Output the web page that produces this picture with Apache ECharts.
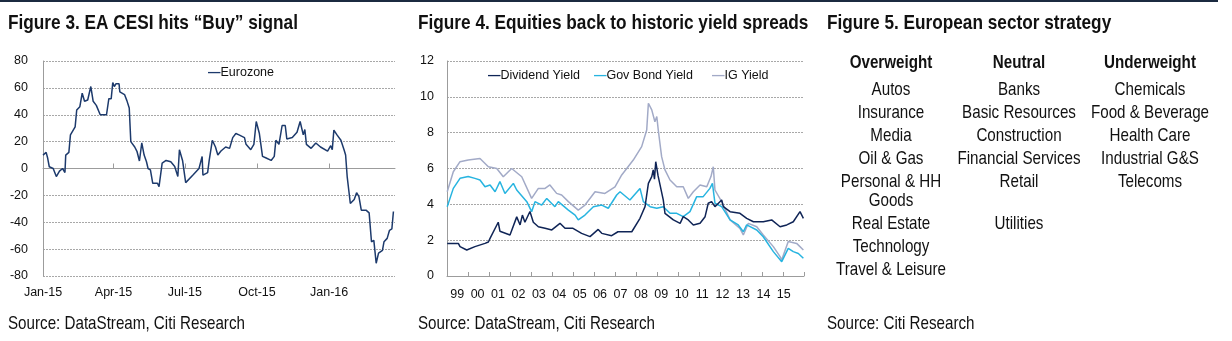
<!DOCTYPE html>
<html>
<head>
<meta charset="utf-8">
<script src="https://cdn.jsdelivr.net/npm/echarts@6/dist/echarts.min.js"></script>
<style>
  html, body { margin: 0; padding: 0; background: #fff; }
  #c { width: 1232px; height: 341px; }
</style>
</head>
<body>
<div id="c"></div>
<script>
// ---- Figure 3: EA CESI (Eurozone) ----
const cesiDates = [
  '2015-01-01','2015-01-05','2015-01-07','2015-01-09','2015-01-14','2015-01-18','2015-01-22','2015-01-26',
  '2015-01-29','2015-01-30','2015-02-03','2015-02-05','2015-02-08','2015-02-11','2015-02-13','2015-02-17',
  '2015-02-20','2015-02-23','2015-02-27','2015-03-03','2015-03-06','2015-03-10','2015-03-15','2015-03-23',
  '2015-03-26','2015-03-29','2015-03-31','2015-04-02','2015-04-04','2015-04-08','2015-04-09','2015-04-15',
  '2015-04-18','2015-04-21','2015-04-23','2015-04-28','2015-05-01','2015-05-04','2015-05-07','2015-05-10',
  '2015-05-13','2015-05-15','2015-05-18','2015-05-21','2015-05-27','2015-05-29','2015-06-02','2015-06-07',
  '2015-06-13','2015-06-18','2015-06-22','2015-06-24','2015-06-28','2015-07-02','2015-07-11','2015-07-19',
  '2015-07-23','2015-07-24','2015-07-30','2015-08-01','2015-08-05','2015-08-09','2015-08-12','2015-08-16',
  '2015-08-22','2015-08-27','2015-08-31','2015-09-04','2015-09-08','2015-09-15','2015-09-17','2015-09-23',
  '2015-09-27','2015-09-30','2015-10-04','2015-10-08','2015-10-12','2015-10-19','2015-10-23','2015-10-25',
  '2015-10-29','2015-11-02','2015-11-06','2015-11-08','2015-11-15','2015-11-21','2015-11-25','2015-11-29',
  '2015-12-01','2015-12-03','2015-12-09','2015-12-15','2015-12-21','2015-12-30','2016-01-03','2016-01-05',
  '2016-01-07','2016-01-11','2016-01-16','2016-01-20','2016-01-22','2016-01-24','2016-01-26','2016-01-28',
  '2016-02-02','2016-02-05','2016-02-08','2016-02-11','2016-02-17','2016-02-21','2016-02-24','2016-02-27',
  '2016-03-01','2016-03-04','2016-03-09','2016-03-11','2016-03-15','2016-03-18','2016-03-21','2016-03-23'
];
const cesiValues = [
  10, 12, 7.6, 1.3, 0, -6, -2, 0,
  -3, 10, 12, 25, 28, 31, 43.5, 46,
  56, 50, 51, 61, 50, 47, 40, 40,
  52, 52, 64, 61, 63, 63, 57, 55,
  50.5, 45, 20, 16, 12.5, 5.6, 19, 10,
  5, 0, -1, -11, -11, -13.5, 4, 6,
  5, 1.5, -6, 14, 6, -10.5, -5, 0,
  9, -5, -3, 6, 21, 16, 10, 13,
  16, 15, 23, 26, 25, 23, 18, 14,
  18, 35, 26, 9, 8, 6, 9, 21,
  18, 32, 32, 22, 23, 27, 35, 25,
  29, 18, 15, 19, 16, 13, 17, 14,
  28.6, 25, 21, 14, 10, -6, -16, -26,
  -23, -18, -21, -31, -31, -33, -54.5, -53.5,
  -70.5, -63, -61, -54.5, -52, -46, -45, -32
];
const cesiTickDates = ['2015-01-01', '2015-04-01', '2015-07-01', '2015-10-01', '2016-01-01'];
const cesiRange = ['2015-01-01', '2016-03-25'];
const monthNames = ['Jan','Feb','Mar','Apr','May','Jun','Jul','Aug','Sep','Oct','Nov','Dec'];

// ---- Figure 4: yields (year, %) ----
const yieldYearLabels = ['99','00','01','02','03','04','05','06','07','08','09','10','11','12','13','14','15'];
const dividendYield = [
  [1999.01,1.82],[1999.54,1.82],[1999.62,1.64],[1999.94,1.45],[2000.33,1.64],[2000.81,1.82],[2000.97,1.9],
  [2001.05,2.1],[2001.44,3.0],[2001.52,2.5],[2002.0,2.29],[2002.32,3.3],[2002.48,2.85],[2002.59,3.4],
  [2002.71,3.0],[2002.95,3.6],[2003.11,3.0],[2003.35,2.75],[2003.67,2.66],[2003.99,2.57],[2004.38,2.94],
  [2004.62,2.66],[2005.0,2.66],[2005.41,2.38],[2005.81,2.2],[2006.2,2.6],[2006.37,2.38],[2006.84,2.25],
  [2007.14,2.47],[2007.4,2.47],[2007.8,2.47],[2008.19,3.22],[2008.43,3.87],[2008.59,5.17],[2008.75,5.55],
  [2008.82,5.92],[2008.88,5.4],[2008.94,6.38],[2009.05,5.6],[2009.3,4.24],[2009.38,3.5],[2009.78,3.13],
  [2010.1,2.94],[2010.25,3.31],[2010.49,3.13],[2010.73,2.85],[2011.05,2.94],[2011.29,3.31],[2011.44,4.06],
  [2011.6,4.15],[2011.76,3.87],[2012.08,4.24],[2012.16,3.87],[2012.48,3.59],[2012.95,3.5],[2013.27,3.22],
  [2013.59,3.03],[2014.06,3.03],[2014.46,3.13],[2014.86,2.75],[2015.18,2.85],[2015.49,3.03],[2015.81,3.59],
  [2015.97,3.22]
];
const govBondYield = [
  [1999.01,3.87],[1999.3,4.89],[1999.62,5.45],[2000.01,5.55],[2000.33,5.45],[2000.57,5.36],[2000.81,4.98],
  [2001.05,5.08],[2001.29,4.7],[2001.52,5.27],[2001.76,4.6],[2002.16,5.17],[2002.32,4.8],[2002.8,4.15],
  [2003.03,3.59],[2003.19,4.15],[2003.51,3.96],[2003.75,4.33],[2004.14,3.87],[2004.3,4.15],[2004.78,3.68],
  [2005.1,3.4],[2005.25,3.13],[2005.57,3.4],[2005.97,3.87],[2006.37,3.96],[2006.68,3.78],[2007.08,4.52],
  [2007.24,4.7],[2007.71,4.24],[2008.19,4.89],[2008.35,4.15],[2008.67,3.87],[2008.99,3.78],[2009.3,3.87],
  [2009.62,3.5],[2009.94,3.5],[2010.25,3.31],[2010.57,3.59],[2010.89,4.43],[2011.2,4.43],[2011.52,4.89],
  [2011.64,5.17],[2011.76,4.06],[2012.08,3.87],[2012.48,3.13],[2012.87,2.85],[2013.11,2.47],[2013.27,2.85],
  [2013.75,2.57],[2014.06,2.19],[2014.54,1.36],[2014.94,0.8],[2015.25,1.54],[2015.49,1.36],[2015.73,1.26],
  [2015.97,0.99]
];
const igYield = [
  [1999.01,4.7],[1999.3,5.82],[1999.62,6.38],[2000.01,6.47],[2000.57,6.56],[2000.97,6.1],[2001.37,6.0],
  [2001.68,5.54],[2002.08,6.0],[2002.56,5.54],[2003.03,4.33],[2003.35,4.89],[2003.67,4.89],[2003.9,5.08],
  [2004.22,4.61],[2004.46,4.52],[2004.78,4.15],[2005.25,3.68],[2005.57,3.96],[2006.05,4.7],[2006.52,4.61],
  [2007.0,4.98],[2007.32,5.64],[2007.87,6.47],[2008.27,7.22],[2008.51,8.15],[2008.59,9.64],[2008.75,9.27],
  [2008.9,8.61],[2008.99,8.9],[2009.06,8.15],[2009.22,6.66],[2009.38,5.92],[2009.62,5.36],[2009.94,4.98],
  [2010.25,4.98],[2010.49,4.33],[2010.73,4.7],[2011.05,5.08],[2011.37,4.98],[2011.57,5.55],[2011.68,6.1],
  [2011.76,4.8],[2012.08,4.15],[2012.48,3.13],[2012.95,2.66],[2013.11,2.29],[2013.35,2.94],[2013.75,2.75],
  [2014.06,2.29],[2014.54,1.64],[2014.86,1.08],[2014.94,0.9],[2015.25,1.92],[2015.65,1.82],[2015.97,1.45]
];

// ---- Figure 5: sector strategy table ----
const sectorHeaders = ['Overweight', 'Neutral', 'Underweight'];
const overweightSectors = ['Autos', 'Insurance', 'Media', 'Oil & Gas', 'Personal & HH\nGoods', 'Real Estate', 'Technology', 'Travel & Leisure'];
const neutralSectors = ['Banks', 'Basic Resources', 'Construction', 'Financial Services', 'Retail', 'Utilities'];
const underweightSectors = ['Chemicals', 'Food & Beverage', 'Health Care', 'Industrial G&S', 'Telecoms'];

// ---- styling ----
const FONT = '"Liberation Sans", Arial, sans-serif';
const AXIS_FS = 12.5;
const NARROW_SCALE = 0.82;   // condensed look for free-standing text
const GRID_COLOR = '#a8a8a8';
const AXIS_COLOR = '#9c9c9c';
const TEXT_COLOR = '#111';
const NAVY = '#1d3a6c';
const DIV_COLOR = '#0f2456';
const GOV_COLOR = '#27b4e0';
const IG_COLOR = '#a2aac7';

const chart = echarts.init(document.getElementById('c'), null, { renderer: 'canvas' });

const toTs = s => +echarts.time.parse(s);
const tsTicks = cesiTickDates.map(toTs);
const cesiData = cesiDates.map((d, i) => [toTs(d), cesiValues[i]]);

const dashStyle = color => ({ color, fontSize: AXIS_FS, fontWeight: 'bold', fontFamily: FONT });
const legendRich = {
  k0: dashStyle(NAVY),
  k1: dashStyle(DIV_COLOR),
  k2: dashStyle(GOV_COLOR),
  k3: dashStyle(IG_COLOR),
  t: { color: TEXT_COLOR, fontSize: AXIS_FS, fontFamily: FONT }
};
const legendKey = { 'Eurozone': 'k0', 'Dividend Yield': 'k1', 'Gov Bond Yield': 'k2', 'IG Yield': 'k3' };
const legendFormatter = name => '{' + legendKey[name] + '|\u2014}{t|' + name + '}';
function legendAt(names, left, top) {
  return {
    data: names, left, top, padding: 0, icon: 'none', itemWidth: 0, itemHeight: 14, itemGap: 9,
    formatter: legendFormatter, textStyle: { rich: legendRich }, selectedMode: false
  };
}

const yLabel = { fontSize: AXIS_FS, color: TEXT_COLOR, fontFamily: FONT };
const dashedGrid = { show: true, lineStyle: { color: GRID_COLOR, width: 1, type: [2, 1] } };

// free-standing text, horizontally condensed around its anchor
function condensedText(text, x, y, font, align, vAlign, extra) {
  return {
    type: 'text', silent: true, x, y, scaleX: NARROW_SCALE, scaleY: 1,
    style: Object.assign({ text, x: 0, y: 0, font, fill: TEXT_COLOR,
      align, textAlign: align, verticalAlign: vAlign, textVerticalAlign: vAlign }, extra || {})
  };
}

// table texts
const tableGraphics = [];
const colX = [891, 1019, 1150];
const headerY = 63;
const rowTop = 90, rowStep = 23, lineH = 19;
const ys = [];
{
  let y = rowTop;
  overweightSectors.forEach(name => {
    ys.push(y);
    y += rowStep + (name.split('\n').length - 1) * lineH;
  });
}
const cell = (text, x, yc, font) => condensedText(text, x, yc - lineH / 2, font, 'center', 'top', { lineHeight: lineH });
sectorHeaders.forEach((h, c) => tableGraphics.push(cell(h, colX[c], headerY, 'bold 18.5px ' + FONT)));
[overweightSectors, neutralSectors, underweightSectors].forEach((col, c) => {
  col.forEach((name, r) => tableGraphics.push(cell(name, colX[c], ys[r], '18.5px ' + FONT)));
});

const titleFont = 'bold 21px ' + FONT;
const sourceFont = '18.5px ' + FONT;

const option = {
  animation: false,
  backgroundColor: '#fff',
  textStyle: { fontFamily: FONT },
  graphic: [
    { type: 'rect', silent: true, shape: { x: 0, y: 0, width: 1218, height: 2 }, style: { fill: '#1b2a40' } },
    condensedText('Figure 3. EA CESI hits \u201cBuy\u201d signal', 8, 23, titleFont, 'left', 'middle'),
    condensedText('Figure 4. Equities back to historic yield spreads', 418, 23, titleFont, 'left', 'middle'),
    condensedText('Figure 5. European sector strategy', 827, 23, titleFont, 'left', 'middle'),
    condensedText('Source: DataStream, Citi Research', 8, 323.5, sourceFont, 'left', 'middle'),
    condensedText('Source: DataStream, Citi Research', 418, 323.5, sourceFont, 'left', 'middle'),
    condensedText('Source: Citi Research', 827, 323.5, sourceFont, 'left', 'middle'),
    ...tableGraphics
  ],
  legend: [
    legendAt(['Eurozone'], 203, 66),
    legendAt(['Dividend Yield', 'Gov Bond Yield'], 483, 69),
    legendAt(['IG Yield'], 707, 69)
  ],
  grid: [
    { left: 43, top: 61, width: 352, height: 215, containLabel: false },
    { left: 447, top: 61, width: 357, height: 215, containLabel: false },
    { left: 447, top: 61, width: 347, height: 215, containLabel: false }
  ],
  xAxis: [
    {
      gridIndex: 0, type: 'value', min: toTs(cesiRange[0]), max: toTs(cesiRange[1]), position: 'bottom',
      axisLine: { show: false, onZero: false },
      axisTick: { show: false },
      splitLine: { show: false },
      axisLabel: {
        customValues: tsTicks, margin: 10, fontSize: AXIS_FS, color: TEXT_COLOR, fontFamily: FONT,
        formatter: v => { const d = new Date(v); return monthNames[d.getMonth()] + '-' + String(d.getFullYear()).slice(2); }
      }
    },
    {
      gridIndex: 0, type: 'value', min: toTs(cesiRange[0]), max: toTs(cesiRange[1]), position: 'bottom',
      axisLine: { show: true, onZero: true, lineStyle: { color: AXIS_COLOR, width: 1 } },
      axisTick: { show: true, inside: true, length: 5, customValues: tsTicks, lineStyle: { color: AXIS_COLOR } },
      axisLabel: { show: false },
      splitLine: { show: false }
    },
    {
      gridIndex: 1, type: 'value', min: 1999, max: 2016, interval: 1,
      axisLine: { show: true, onZero: false, lineStyle: { color: AXIS_COLOR, width: 1 } },
      axisTick: { show: true, inside: true, length: 4, lineStyle: { color: AXIS_COLOR } },
      axisLabel: { show: false },
      splitLine: { show: false }
    },
    {
      gridIndex: 2, type: 'category', data: yieldYearLabels, boundaryGap: true,
      axisLine: { show: false }, axisTick: { show: false }, splitLine: { show: false },
      axisLabel: { margin: 12, fontSize: AXIS_FS, color: TEXT_COLOR, fontFamily: FONT, interval: 0 }
    }
  ],
  yAxis: [
    {
      gridIndex: 0, type: 'value', min: -80, max: 80, interval: 20,
      axisLine: { show: true, lineStyle: { color: AXIS_COLOR, width: 1 } },
      axisTick: { show: false },
      axisLabel: Object.assign({ margin: 15 }, yLabel),
      splitLine: dashedGrid
    },
    {
      gridIndex: 1, type: 'value', min: 0, max: 12, interval: 2,
      axisLine: { show: true, lineStyle: { color: AXIS_COLOR, width: 1 } },
      axisTick: { show: false },
      axisLabel: Object.assign({ margin: 13 }, yLabel),
      splitLine: dashedGrid
    },
    {
      gridIndex: 2, type: 'value', min: 0, max: 12, show: false
    }
  ],
  series: [
    {
      name: 'Eurozone', type: 'line', xAxisIndex: 0, yAxisIndex: 0, data: cesiData,
      symbol: 'none', lineStyle: { color: NAVY, width: 1.5 }, itemStyle: { color: NAVY }, z: 3
    },
    {
      name: 'IG Yield', type: 'line', xAxisIndex: 2, yAxisIndex: 1, data: igYield,
      symbol: 'none', lineStyle: { color: IG_COLOR, width: 1.5 }, itemStyle: { color: IG_COLOR }, z: 2
    },
    {
      name: 'Gov Bond Yield', type: 'line', xAxisIndex: 2, yAxisIndex: 1, data: govBondYield,
      symbol: 'none', lineStyle: { color: GOV_COLOR, width: 1.5 }, itemStyle: { color: GOV_COLOR }, z: 3
    },
    {
      name: 'Dividend Yield', type: 'line', xAxisIndex: 2, yAxisIndex: 1, data: dividendYield,
      symbol: 'none', lineStyle: { color: DIV_COLOR, width: 1.5 }, itemStyle: { color: DIV_COLOR }, z: 4
    }
  ]
};

chart.setOption(option);
</script>
</body>
</html>
